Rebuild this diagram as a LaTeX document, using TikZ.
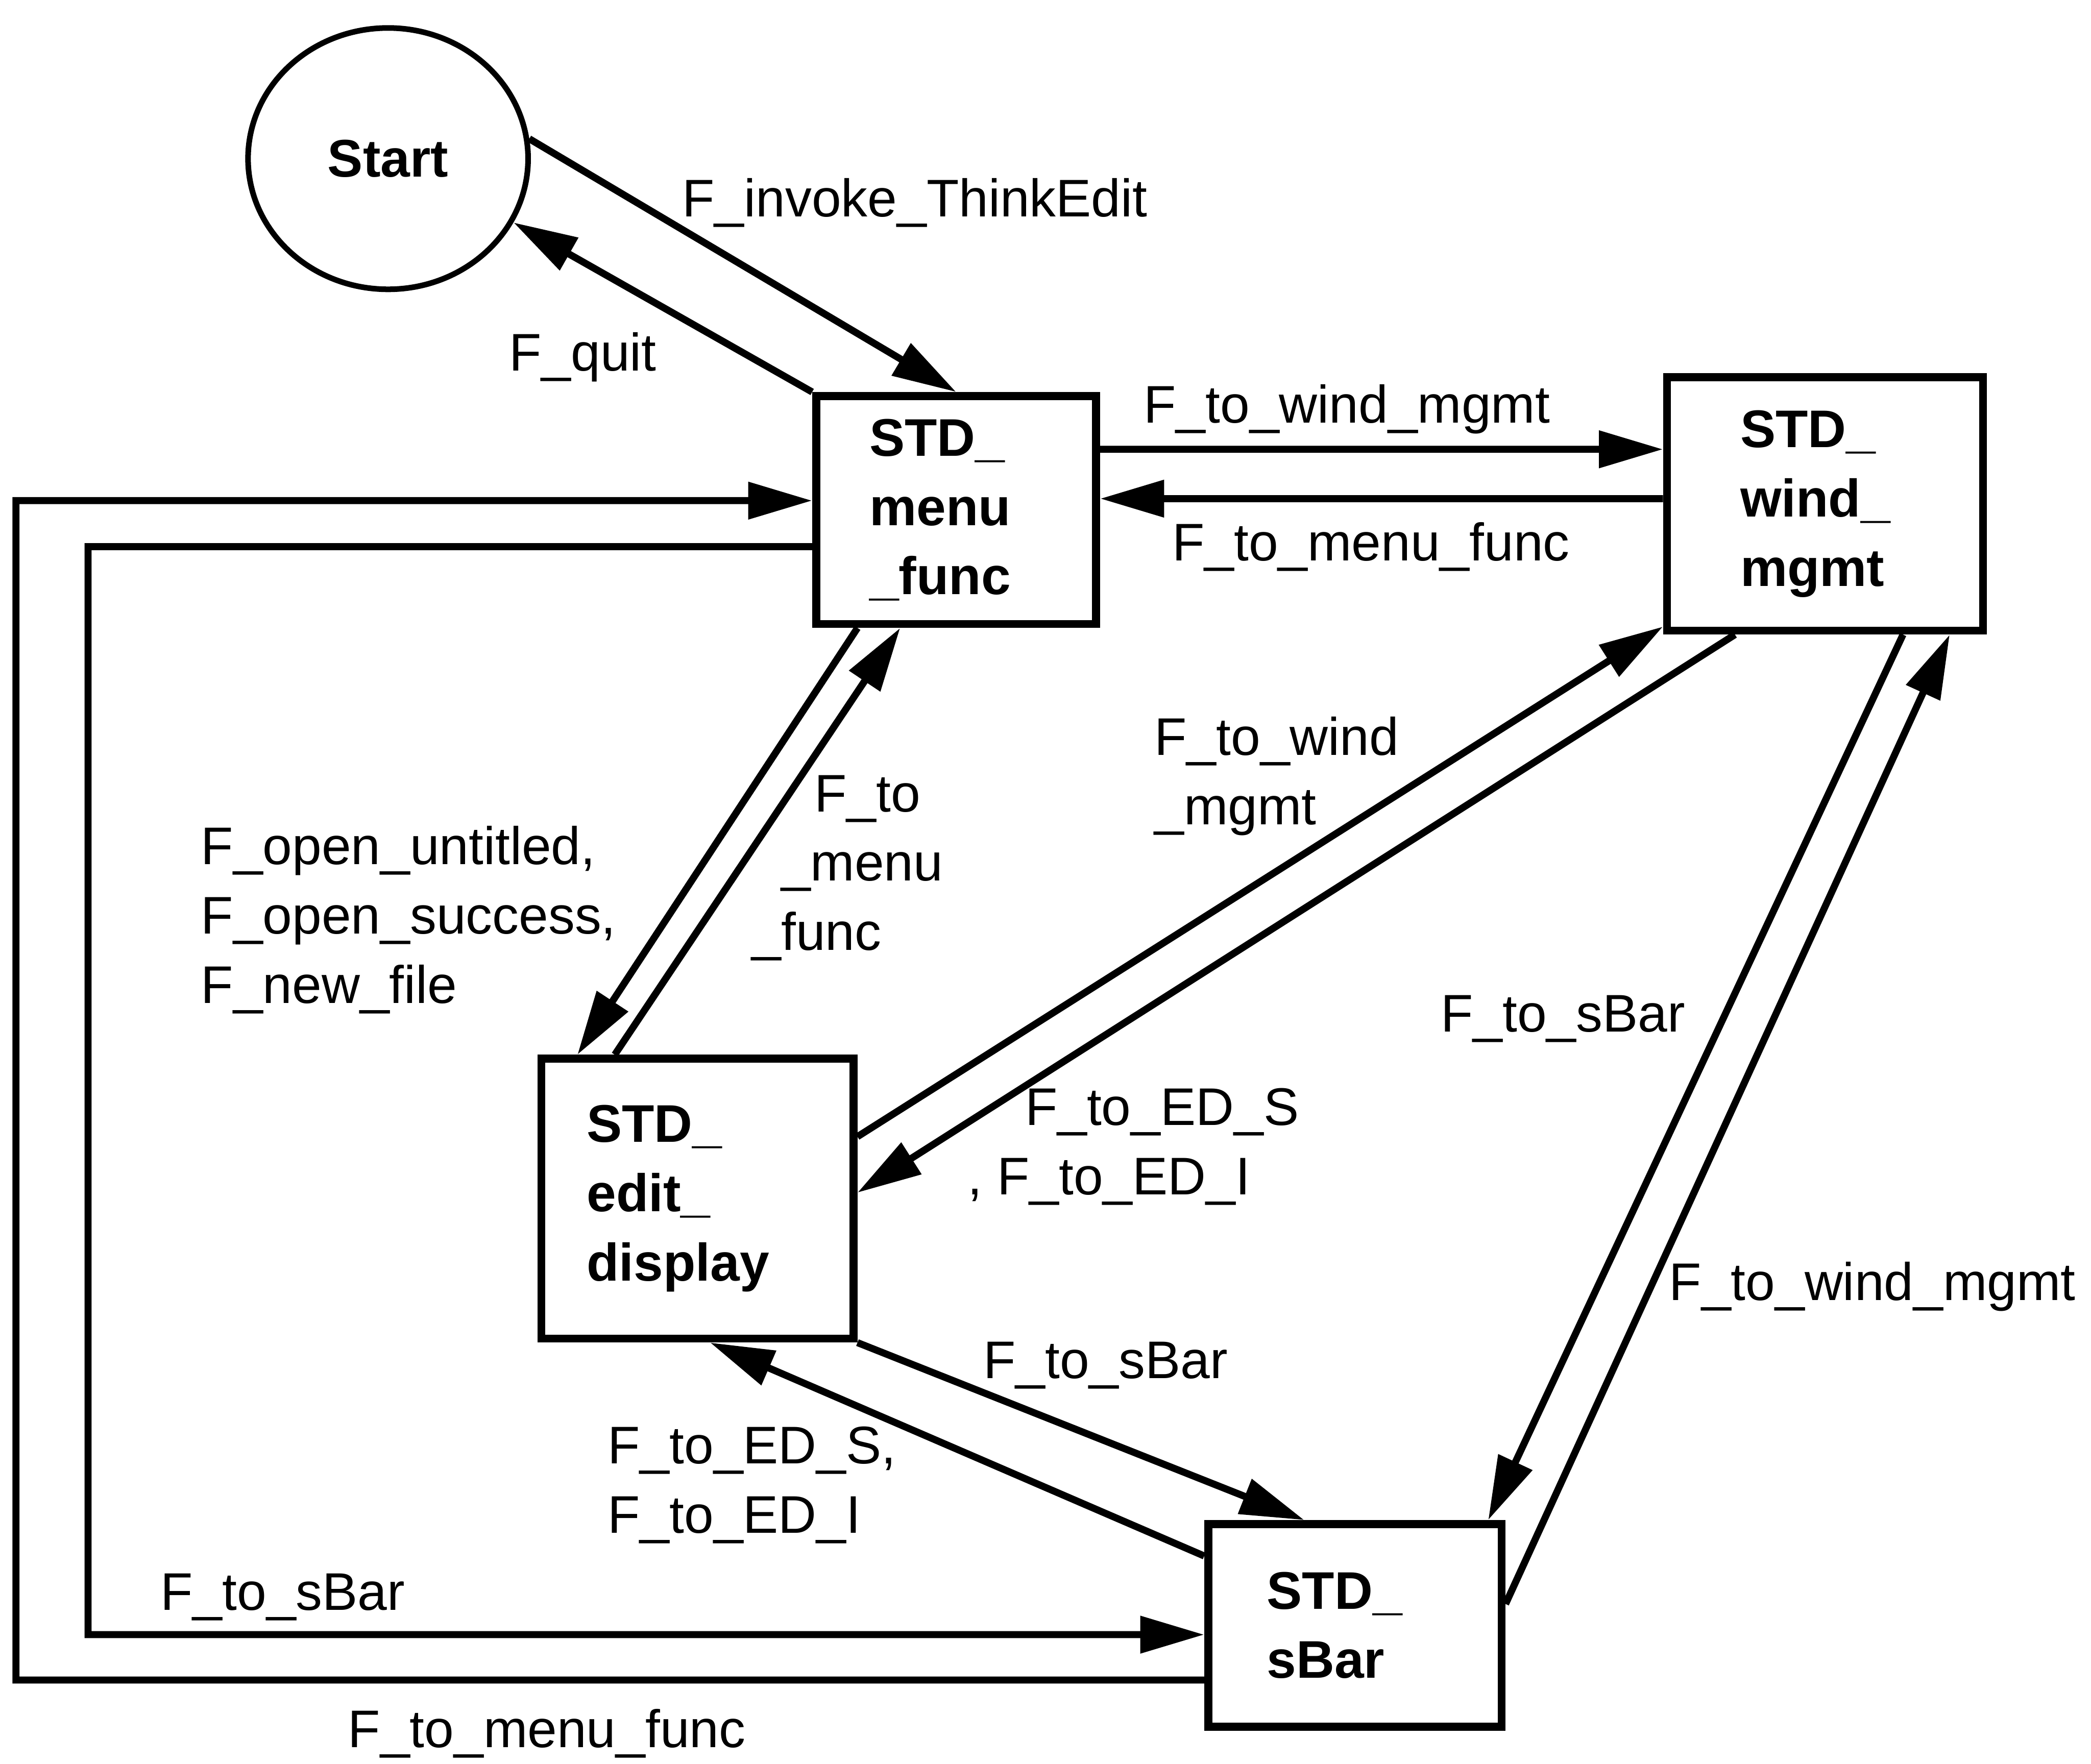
\documentclass[tikz,border=0pt]{standalone}
\usepackage{fontspec}
\setmainfont{Liberation Sans}
\usepackage{tikz}
\usetikzlibrary{arrows.meta}
\usetikzlibrary{shapes.geometric}

\begin{document}
\begin{tikzpicture}[
    state/.style={draw, rectangle, line width=1.7pt, inner ysep=0pt, align=left,
        font=\fontsize{11.3}{14.8}\selectfont\bfseries},
    trans/.style={line width=1.5pt, -{Triangle[length=4.8mm, width=2.7mm]}},
    lbl/.style={align=left, inner sep=0pt, font=\fontsize{11.3}{14.8}\selectfont}
]
    \useasboundingbox (0,0) rectangle (15.68,13.23);

    % States
    \node[draw, ellipse, line width=1.2pt, minimum width=2.1cm, minimum height=1.96cm,
        font=\fontsize{11.3}{14.8}\selectfont\bfseries] (start) at (2.91,12.04) {Start};
    \node[state, inner xsep=4mm, text width=1.3cm, minimum height=1.71cm] (menu) at (7.17,9.405) {STD\_\\menu\\\_func};
    \node[state, inner xsep=5.5mm, text width=1.27cm, minimum height=1.9cm] (wind) at (13.685,9.45) {STD\_\\wind\_\\mgmt};
    \node[state, inner xsep=3.4mm, text width=1.66cm, minimum height=2.1cm] (edit) at (5.23,4.24) {STD\_\\edit\_\\display};
    \node[state, inner xsep=4.4mm, text width=1.32cm, minimum height=1.52cm] (sbar) at (10.16,1.04) {STD\_\\sBar};

    % Corners of the two long loops
    \coordinate (outerB) at (0.12,0.63);
    \coordinate (outerT) at (0.12,9.475);
    \coordinate (innerT) at (0.66,9.13);
    \coordinate (innerB) at (0.66,0.97);

    % Transitions
    \draw[trans] (start.8) -- (menu.north);
    \draw[trans] (menu.north west) -- (start.-27);
    \draw[trans] ([yshift=4.55mm]menu.east) -- ([yshift=4.1mm]wind.west);
    \draw[trans] ([yshift=0.4mm]wind.west) -- ([yshift=0.85mm]menu.east);
    \draw[trans] ([xshift=-7.4mm]menu.south) -- ([xshift=-9mm]edit.north);
    \draw[trans] ([xshift=-6.2mm]edit.north) -- ([xshift=-4.2mm]menu.south);
    \draw[trans] ([yshift=4.65mm]edit.east) -- ([yshift=0.6mm]wind.south west);
    \draw[trans] ([xshift=-6.75mm]wind.south) -- ([yshift=0.45mm]edit.east);
    \draw[trans] ([xshift=5.85mm]wind.south) -- ([xshift=10mm]sbar.north);
    \draw[trans] ([yshift=1.6mm]sbar.east) -- ([xshift=9.35mm]wind.south);
    \draw[trans] (edit.south east) -- ([xshift=-3.8mm]sbar.north);
    \draw[trans] ([yshift=5.2mm]sbar.west) -- ([xshift=0.95mm]edit.south);
    \draw[trans] ([yshift=-4.1mm]sbar.west) -- (outerB) -- (outerT) -- ([yshift=0.7mm]menu.west);
    \draw[trans] ([yshift=-2.75mm]menu.west) -- (innerT) -- (innerB) -- ([yshift=-0.7mm]sbar.west);

    % Labels
    \node[lbl] (lInvoke) at (6.86,11.71) {F\_invoke\_ThinkEdit};
    \node[lbl] (lQuit) at (4.37,10.55) {F\_quit};
    \node[lbl] (lToWindA) at (10.10,10.16) {F\_to\_wind\_mgmt};
    \node[lbl] (lToMenuA) at (10.28,9.13) {F\_to\_menu\_func};
    \node[lbl, anchor=west] (lOpen) at (1.50,6.33) {F\_open\_untitled,\\F\_open\_success,\\F\_new\_file};
    \node[lbl, anchor=west] (lToMenuB) at (5.63,6.72) {\hspace*{4.7mm}F\_to\\\hspace*{2.2mm}\_menu\\\_func};
    \node[lbl, anchor=west] (lToWindB) at (8.65,7.41) {F\_to\_wind\\\_mgmt};
    \node[lbl, anchor=west] (lToEDA) at (7.25,4.63) {\hspace*{4.3mm}F\_to\_ED\_S\\, F\_to\_ED\_I};
    \node[lbl] (lToSBarA) at (8.29,2.99) {F\_to\_sBar};
    \node[lbl, anchor=west] (lToEDB) at (4.55,2.09) {F\_to\_ED\_S,\\F\_to\_ED\_I};
    \node[lbl] (lToSBarB) at (11.72,5.59) {F\_to\_sBar};
    \node[lbl] (lToWindC) at (14.04,3.58) {F\_to\_wind\_mgmt};
    \node[lbl] (lToSBarC) at (2.12,1.25) {F\_to\_sBar};
    \node[lbl] (lToMenuC) at (4.10,0.23) {F\_to\_menu\_func};
\end{tikzpicture}
\end{document}
